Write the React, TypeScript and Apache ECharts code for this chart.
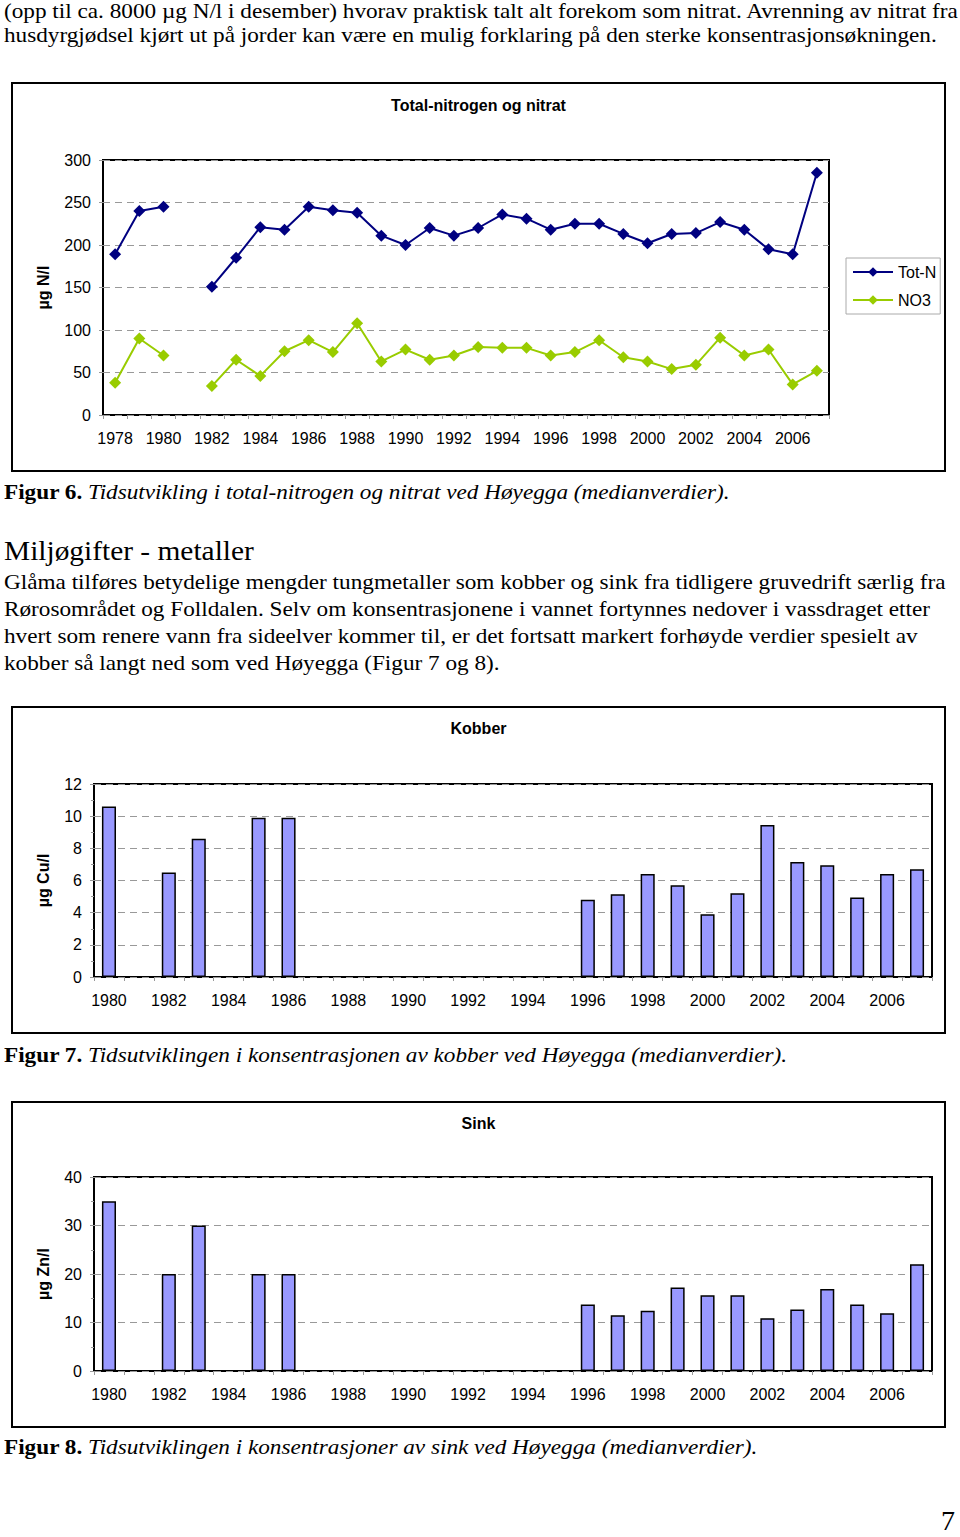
import React, { useEffect, useRef } from "react";
import * as echarts from "echarts";

// ---------- data ----------
const nYears = [
  "1978", "1979", "1980", "1981", "1982", "1983", "1984", "1985", "1986", "1987",
  "1988", "1989", "1990", "1991", "1992", "1993", "1994", "1995", "1996", "1997",
  "1998", "1999", "2000", "2001", "2002", "2003", "2004", "2005", "2006", "2007",
];
const totN = [
  189, 240, 245, null, 151, 185, 221, 218, 245, 241,
  238, 211, 200, 220, 211, 220, 236, 231, 218, 225,
  225, 213, 202, 213, 214, 227, 218, 195, 189, 285,
];
const no3 = [
  38, 90, 70, null, 34, 65, 46, 75, 88, 74,
  108, 63, 77, 65, 70, 80, 79, 79, 70, 74,
  88, 68, 63, 54, 59, 91, 70, 77, 36, 52,
];

const metalYears = [
  "1980", "1981", "1982", "1983", "1984", "1985", "1986", "1987", "1988", "1989",
  "1990", "1991", "1992", "1993", "1994", "1995", "1996", "1997", "1998", "1999",
  "2000", "2001", "2002", "2003", "2004", "2005", "2006", "2007",
];
const copper = [
  10.6, null, 6.5, 8.6, null, 9.9, 9.9, null, null, null,
  null, null, null, null, null, null, 4.8, 5.15, 6.4, 5.7,
  3.9, 5.2, 9.45, 7.15, 6.95, 4.95, 6.4, 6.7,
];
const zinc = [
  35, null, 20, 30, null, 20, 20, null, null, null,
  null, null, null, null, null, null, 13.7, 11.5, 12.4, 17.2,
  15.6, 15.6, 10.9, 12.7, 16.9, 13.7, 11.9, 22,
];

const SANS = "'Liberation Sans', Arial, sans-serif";
const SERIF = "'Liberation Serif', 'Times New Roman', serif";

function baseAxes(yMin: number, yMax: number, yInt: number, yName: string, nameGap: number, cats: string[], minor: boolean) {
  return {
    xAxis: {
      type: "category",
      data: cats,
      boundaryGap: true,
      axisLine: { show: false },
      axisTick: { show: true, interval: 0, length: 4, lineStyle: { color: "#999", width: 1 } },
      axisLabel: { interval: 1, margin: 15, color: "#000", fontSize: 16, fontFamily: SANS },
      splitLine: { show: false },
    },
    yAxis: {
      type: "value",
      min: yMin,
      max: yMax,
      interval: yInt,
      name: yName,
      nameLocation: "middle",
      nameGap,
      nameRotate: 90,
      nameTextStyle: { color: "#000", fontSize: 16, fontWeight: "bold", fontFamily: SANS },
      axisLine: { show: false },
      axisTick: { show: true, length: 4, lineStyle: { color: "#999", width: 1 } },
      minorTick: { show: minor, splitNumber: 2, length: 3, lineStyle: { color: "#999", width: 1 } },
      axisLabel: { margin: 12, color: "#000", fontSize: 16, fontFamily: SANS },
      splitLine: { show: true, lineStyle: { color: "#999", type: [7, 5], width: 1 } },
    },
  };
}

function lineOption(): any {
  const axes = baseAxes(0, 300, 50, "µg N/l", 52, nYears, false);
  const mk = (name: string, data: (number | null)[], color: string) => ({
    name,
    type: "line",
    data,
    connectNulls: false,
    symbol: "diamond",
    symbolSize: 12,
    lineStyle: { color, width: 2 },
    itemStyle: { color },
    emphasis: { disabled: true },
  });
  return {
    animation: false,
    title: {
      text: "Total-nitrogen og nitrat",
      left: "center",
      top: 10,
      textStyle: { color: "#000", fontSize: 16, fontWeight: "bold", fontFamily: SANS },
    },
    legend: {
      orient: "vertical",
      left: 836,
      top: 176,
      borderColor: "#aaa",
      borderWidth: 1,
      borderRadius: 0,
      padding: [6, 4, 6, 6],
      itemWidth: 40,
      itemHeight: 12,
      itemGap: 12,
      textStyle: { color: "#000", fontSize: 16, fontFamily: SANS },
      data: ["Tot-N", "NO3"],
    },
    grid: {
      left: 93,
      top: 78,
      width: 726,
      height: 255,
      show: true,
      borderColor: "#000",
      borderWidth: 2,
      backgroundColor: "transparent",
    },
    ...axes,
    series: [mk("Tot-N", totN, "#000080"), mk("NO3", no3, "#99CC00")],
  };
}

function barOption(title: string, data: (number | null)[], yMax: number, yInt: number, yName: string, top: number, height: number): any {
  const axes = baseAxes(0, yMax, yInt, yName, 43, metalYears, true);
  return {
    animation: false,
    title: {
      text: title,
      left: "center",
      top: 9,
      textStyle: { color: "#000", fontSize: 16, fontWeight: "bold", fontFamily: SANS },
    },
    grid: {
      left: 84,
      top,
      width: 838,
      height,
      show: true,
      borderColor: "#000",
      borderWidth: 2,
      backgroundColor: "transparent",
    },
    ...axes,
    series: [
      {
        type: "bar",
        data,
        barWidth: "47%",
        itemStyle: { color: "#9999FF", borderColor: "#000", borderWidth: 1.5 },
        emphasis: { disabled: true },
      },
    ],
  };
}

function Chart({ option, left, top, width, height }: { option: any; left: number; top: number; width: number; height: number }) {
  const ref = useRef<HTMLDivElement>(null);
  useEffect(() => {
    if (!ref.current) return;
    const c = echarts.init(ref.current, undefined, { renderer: "svg" });
    c.setOption(option);
    return () => c.dispose();
  }, []);
  return (
    <>
      <div ref={ref} style={{ position: "absolute", left, top, width, height }} />
      <div
        style={{
          position: "absolute",
          left: left + 1,
          top,
          width: width - 2,
          height,
          border: "2px solid #000",
          boxSizing: "border-box",
          pointerEvents: "none",
        }}
      />
    </>
  );
}

function Line({ baseline, fs = 21, left = 4, sx = 1.105, children }: { baseline: number; fs?: number; left?: number; sx?: number; children: any }) {
  return (
    <div
      style={{
        position: "absolute",
        left,
        top: baseline - 0.8375 * fs,
        fontSize: fs,
        lineHeight: `${fs}px`,
        whiteSpace: "nowrap",
        fontFamily: SERIF,
        color: "#000",
        transform: `scaleX(${sx})`,
        transformOrigin: "left center",
      }}
    >
      {children}
    </div>
  );
}

export default function App() {
  return (
    <div style={{ position: "absolute", left: 0, top: 0, width: 960, height: 1537, background: "#fff", overflow: "hidden" }}>
      <Line baseline={18.5}>(opp til ca. 8000 µg N/l i desember) hvorav praktisk talt alt forekom som nitrat. Avrenning av nitrat fra</Line>
      <Line baseline={43}>husdyrgjødsel kjørt ut på jorder kan være en mulig forklaring på den sterke konsentrasjonsøkningen.</Line>

      <Chart option={lineOption()} left={10} top={82} width={937} height={390} />

      <Line baseline={500}>
        <b>Figur 6.</b> <i>Tidsutvikling i total-nitrogen og nitrat ved Høyegga (medianverdier).</i>
      </Line>
      <Line baseline={560} fs={28} sx={1.05}>Miljøgifter - metaller</Line>
      <Line baseline={590}>Glåma tilføres betydelige mengder tungmetaller som kobber og sink fra tidligere gruvedrift særlig fra</Line>
      <Line baseline={617}>Rørosområdet og Folldalen. Selv om konsentrasjonene i vannet fortynnes nedover i vassdraget etter</Line>
      <Line baseline={644}>hvert som renere vann fra sideelver kommer til, er det fortsatt markert forhøyde verdier spesielt av</Line>
      <Line baseline={671}>kobber så langt ned som ved Høyegga (Figur 7 og 8).</Line>

      <Chart option={barOption("Kobber", copper, 12, 2, "µg Cu/l", 78, 193)} left={10} top={706} width={937} height={328} />

      <Line baseline={1063}>
        <b>Figur 7.</b> <i>Tidsutviklingen i konsentrasjonen av kobber ved Høyegga (medianverdier).</i>
      </Line>

      <Chart option={barOption("Sink", zinc, 40, 10, "µg Zn/l", 76, 194)} left={10} top={1101} width={937} height={327} />

      <Line baseline={1455}>
        <b>Figur 8.</b> <i>Tidsutviklingen i konsentrasjoner av sink ved Høyegga (medianverdier).</i>
      </Line>
      <Line baseline={1530} fs={28} left={941} sx={1}>7</Line>
    </div>
  );
}
